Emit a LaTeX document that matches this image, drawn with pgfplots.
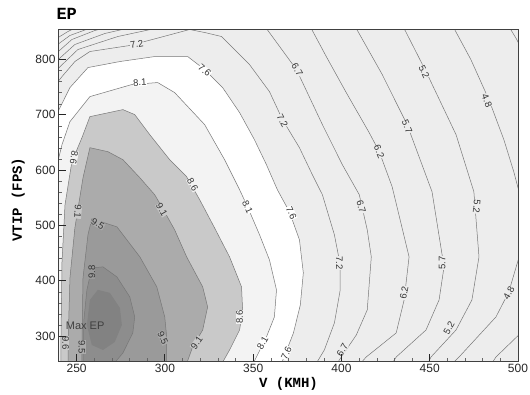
\documentclass[border=0pt]{standalone}
\usepackage{pgfplots}
\pgfplotsset{compat=1.18}
\usepackage{fontspec}
\setmainfont{Liberation Sans}
\newfontfamily\monob{Liberation Mono}
\definecolor{bgl}{HTML}{EDEDED}
\definecolor{b81}{HTML}{F3F3F3}
\definecolor{g86}{HTML}{C9C9C9}
\definecolor{g91}{HTML}{ABABAB}
\definecolor{g95}{HTML}{9A9A9A}
\definecolor{g98}{HTML}{8D8D8D}
\definecolor{gmx}{HTML}{828282}
\definecolor{cline}{HTML}{777777}
\tikzset{clab/.style={font=\fontsize{9.5}{9.5}\selectfont, text=black!80, inner sep=0.3pt}}
\begin{document}
\begin{tikzpicture}[x=1pt,y=1pt]
\begin{axis}[
  scale only axis, width=459pt, height=332pt,
  xmin=240, xmax=500, ymin=255, ymax=855,
  axis background/.style={fill=bgl},
  axis on top,
  xtick={250,300,...,500}, ytick={300,400,...,800},
  minor tick num=4,
  tick align=inside, xtick pos=bottom, ytick pos=left,
  major tick length=7pt, minor tick length=3pt,
  major tick style={black!85, line width=0.9pt},
  minor tick style={black!60, line width=0.4pt},
  axis line style={black!75, line width=1pt},
  /pgf/number format/assume math mode=true,
  ticklabel style={font=\fontsize{12}{12}\selectfont, text=black!85},
  xlabel={V (KMH)}, ylabel={VTIP (FPS)},
  label style={font=\monob\bfseries\fontsize{14}{14}\selectfont},
  xlabel style={at={(axis description cs:0.5,-0.081)}, anchor=base},
  ylabel style={at={(axis description cs:-0.081,0.486)}, anchor=base, rotate=0},
]
% ---- filled bands ----
\addplot[fill=white, draw=none] coordinates {
 (237.7,698.5) (240,709.3) (246.2,749.1) (256.4,785.3) (274.5,796.2) (294.2,805.2)
 (312.9,805.2) (322.5,781.7) (332.7,749.1) (342.3,703.9) (350.7,655) (357.5,609.8)
 (363.7,564.5) (370.5,524.7) (376.2,474) (378.4,414.3) (376.7,356.4) (372.8,305.7)
 (366.6,255) (365.4,246) (236,246) (236,698.5)};
\addplot[fill=b81, draw=none] coordinates {
 (237.7,600.7) (238.9,609.8) (241.7,646) (246.2,687.6) (257.5,732.8) (281.2,754.6)
 (295.9,758.2) (305.5,740.1) (322.5,682.2) (333.8,618.8) (342.3,564.5) (346.8,533.7)
 (353.6,483.1) (359.2,437.8) (363.2,383.5) (362,334.6) (357.5,298.4) (350.7,255)
 (349,246) (236,246) (236,600.7)};
\addplot[fill=g86, draw=cline, line width=0.5pt] coordinates {
 (241.1,246) (241.1,293) (241.7,434.2) (243.4,537.4) (247.3,615.2) (253,658.6)
 (257.5,696.6) (276.2,709.3) (282.9,700.3) (291.4,664.1) (302.7,618.8) (312.3,588)
 (319.7,546.4) (328.1,495.7) (336.6,443.2) (343.4,388.9) (344,347.3) (342.3,311.1)
 (336.6,274.9) (331.5,246)};
\addplot[fill=g91, draw=cline, line width=0.5pt] coordinates {
 (245.1,246) (245.1,284) (246.2,405.2) (249,495.7) (253.6,586.2) (257.5,640.5)
 (267.7,633.3) (276.2,618.8) (285.8,586.2) (294.2,555.5) (298.2,533.7) (305.5,492.1)
 (312.3,443.2) (321.4,388.9) (324.2,352.7) (321.4,311.1) (315.7,280.3) (311.8,246)};
\addplot[fill=g95, draw=cline, line width=0.5pt] coordinates {
 (253,246) (253,284) (253.6,405.2) (256.4,483.1) (258.6,512) (272.8,497.5)
 (285.8,443.2) (295.4,388.9) (299.9,334.6) (301,298.4) (301,246)};
\addplot[fill=g98, draw=cline, line width=0.5pt] coordinates {
 (253.6,246) (254.1,329.2) (255.8,383.5) (258.6,423.3) (264.9,425.1) (272.8,407)
 (280.1,370.8) (282.9,334.6) (281.8,305.7) (276.2,269.5) (270,246)};
\addplot[fill=gmx, draw=none] coordinates {
 (257.5,365.4) (262,383.5) (268.8,378.1) (274.5,351) (275.6,320.2) (271.6,289.4)
 (264.9,274.9) (258.6,284) (255.8,320.2)};
% ---- contour lines ----
% 7.6
\addplot[cline, line width=0.5pt] coordinates {
 (237.7,698.5) (240,709.3) (246.2,749.1) (256.4,785.3) (274.5,796.2) (294.2,805.2)
 (312.9,805.2) (322.5,781.7) (332.7,749.1) (342.3,703.9) (350.7,655) (357.5,609.8)
 (363.7,564.5) (370.5,524.7) (376.2,474) (378.4,414.3) (376.7,356.4) (372.8,305.7)
 (366.6,255) (365.4,246)};
% 8.1
\addplot[cline, line width=0.5pt] coordinates {
 (237.7,600.7) (238.9,609.8) (241.7,646) (246.2,687.6) (257.5,732.8) (281.2,754.6)
 (295.9,758.2) (305.5,740.1) (322.5,682.2) (333.8,618.8) (342.3,564.5) (346.8,533.7)
 (353.6,483.1) (359.2,437.8) (363.2,383.5) (362,334.6) (357.5,298.4) (350.7,255) (349,246)};
% 7.2
\addplot[cline, line width=0.5pt] coordinates {
 (237.7,752.8) (241.7,769) (249,796.2) (257.5,814.3) (280.1,825.2) (297.1,839.6)
 (314,854.1) (322.5,848.7) (332.1,841.4) (347.9,790.8) (359.2,741.9) (366.6,691.2)
 (376.2,640.5) (383.5,591.7) (389.2,555.5) (396,483.1) (399.3,428.8) (399.3,383.5)
 (396,323.8) (390.3,274.9) (385.2,247.8)};
% 6.7
\addplot[cline, line width=0.5pt] coordinates {
 (356.4,863) (357.5,855.9) (374.5,781.7) (389.2,682.2) (400.5,609.8) (410.1,555.5)
 (414.6,492.1) (416.9,443.2) (414.6,347.3) (408.4,302) (398.8,256.8) (397.1,247.8)};
% 6.2
\addplot[cline, line width=0.5pt] coordinates {
 (381.8,863) (382.9,855.9) (391.4,805.2) (402.7,740.1) (415.7,667.7) (421.4,633.3)
 (428.7,570) (438.3,443.2) (435.5,365.4) (431,305.7) (414,262.2) (410,247.8)};
% 5.7
\addplot[cline, line width=0.5pt] coordinates {
 (407.3,863) (408.4,855.9) (423.1,772.7) (437.2,682.2) (451.3,560.9) (458.1,425.1)
 (455.3,365.4) (447.9,311.1) (431,262.2) (428.2,247.8)};
% 5.2
\addplot[cline, line width=0.5pt] coordinates {
 (434.4,863) (435.5,855.9) (447.9,778.1) (464.9,664.1) (475,560.9) (477.9,443.2)
 (473.9,365.4) (464.9,311.1) (450.7,262.2) (448.5,247.8)};
% 4.8
\addplot[cline, line width=0.5pt] coordinates {
 (462.6,863) (473.3,799.8) (483.5,727.4) (492,655) (497.6,597.1) (503.3,528.3)
 (506.1,501.2) (499.3,428.8) (494.8,379.9) (487.5,334.6) (466.6,262.2) (462,247.8)};
% corners
\addplot[cline, line width=0.5pt] coordinates {(501.6,305.7) (487.5,262.2) (484.6,247.8)};
\addplot[cline, line width=0.5pt] coordinates {(494.2,863) (499.3,836) (501.6,821.5)};
% top-left corner lines
\addplot[cline, line width=0.5pt] coordinates {(237.7,778.1) (250.7,817.9) (273.3,841.4) (297.1,857.7) (300,862)};
\addplot[cline, line width=0.5pt] coordinates {(237.7,794.4) (249,827) (266,846.9) (285.8,861.4)};
\addplot[cline, line width=0.5pt] coordinates {(237.7,808.9) (247.3,836) (260.3,852.3) (274.5,863.2)};
\addplot[cline, line width=0.5pt] coordinates {(237.7,823.4) (246.2,843.3) (263.2,863.2)};
\addplot[cline, line width=0.5pt] coordinates {(237.7,836) (245.1,850.5) (253,863.2)};
\addplot[cline, line width=0.5pt] coordinates {(237.7,848.7) (244,863.2)};
% ---- labels ----
\node[clab, fill=bgl, rotate=10] at (axis cs:284.1,827) {7.2};
\node[clab, fill=white, rotate=3] at (axis cs:285.8,758.2) {8.1};
\node[clab, fill=white, rotate=-40] at (axis cs:322.5,779.9) {7.6};
\node[clab, fill=bgl, rotate=-60] at (axis cs:375,781.7) {6.7};
\node[clab, fill=bgl, rotate=-64] at (axis cs:446.8,778.1) {5.2};
\node[clab, fill=bgl, rotate=-68] at (axis cs:482.4,725.6) {4.8};
\node[clab, fill=bgl, rotate=-62] at (axis cs:366.6,689.4) {7.2};
\node[clab, fill=bgl, rotate=-67] at (axis cs:437.2,678.5) {5.7};
\node[clab, fill=bgl, rotate=-67] at (axis cs:421.4,633.3) {6.2};
\node[clab, fill=b81, rotate=-100] at (axis cs:248.5,622.4) {8.6};
\node[clab, fill=b81, rotate=-60] at (axis cs:315.7,573.6) {8.6};
\node[clab, fill=g86, rotate=-95] at (axis cs:250.7,524.7) {9.1};
\node[clab, fill=g86, rotate=-60] at (axis cs:298.2,528.3) {9.1};
\node[clab, fill=g91, rotate=-30] at (axis cs:262,503) {9.5};
\node[clab, fill=white, rotate=-66] at (axis cs:346.8,533.7) {8.1};
\node[clab, fill=white, rotate=-66] at (axis cs:371.6,522.9) {7.6};
\node[clab, fill=bgl, rotate=-74] at (axis cs:411.2,533.7) {6.7};
\node[clab, fill=g95, rotate=90] at (axis cs:258.6,416.1) {9.8};
\node[font=\fontsize{11}{11}\selectfont, text=black!75] at (axis cs:254.8,318.4) {Max EP};
\node[clab, fill=g86, rotate=-90] at (axis cs:243.8,287.6) {9.6};
\node[clab, fill=g91, rotate=-90] at (axis cs:253,280.3) {9.5};
\node[clab, fill=g91, rotate=-65] at (axis cs:298.8,296.6) {9.5};
\node[clab, fill=g86, rotate=55] at (axis cs:318,287.6) {9.1};
\node[clab, fill=b81, rotate=90] at (axis cs:342.3,334.6) {8.6};
\node[clab, fill=white, rotate=60] at (axis cs:355.3,287.6) {8.1};
\node[clab, fill=white, rotate=65] at (axis cs:368.8,269.5) {7.6};
\node[clab, fill=bgl, rotate=-90] at (axis cs:398.8,432.4) {7.2};
\node[clab, fill=bgl, rotate=60] at (axis cs:400.5,274.9) {6.7};
\node[clab, fill=bgl, rotate=80] at (axis cs:435.5,378.1) {6.2};
\node[clab, fill=bgl, rotate=90] at (axis cs:457,432.4) {5.7};
\node[clab, fill=bgl, rotate=-95] at (axis cs:476.7,533.7) {5.2};
\node[clab, fill=bgl, rotate=60] at (axis cs:460.9,314.7) {5.2};
\node[clab, fill=bgl, rotate=60] at (axis cs:494.8,378.1) {4.8};
\end{axis}
\node[anchor=base west, font=\monob\bfseries\fontsize{17}{17}\selectfont] at ([xshift=-6pt,yshift=9pt]current axis.north west) {EP};
\pgfresetboundingbox
\path ([xshift=-59pt,yshift=-33pt]current axis.south west) rectangle ([xshift=12pt,yshift=29pt]current axis.north east);
\end{tikzpicture}
\end{document}
